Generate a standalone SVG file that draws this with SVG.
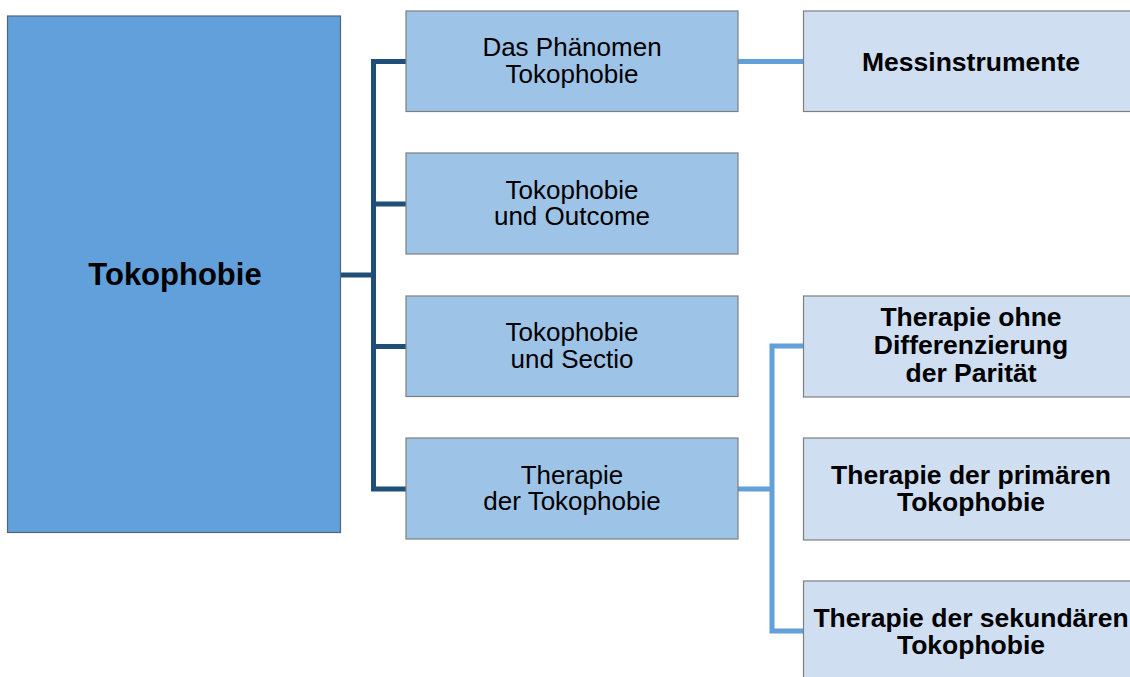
<svg xmlns="http://www.w3.org/2000/svg" width="1130" height="677" viewBox="0 0 1130 677">
<style>
.l1{fill:#62A0DB;stroke:#52657D;stroke-width:1.2}
.l2{fill:#9DC3E6;stroke:#7F7F7F;stroke-width:1.2}
.l3{fill:#CFDFF1;stroke:#7F7F7F;stroke-width:1.2}
.dk{fill:none;stroke:#1F4E79;stroke-width:5}
.lt{fill:none;stroke:#62A0DB;stroke-width:5}
text{font-family:"Liberation Sans",Arial,sans-serif;fill:#000;text-anchor:middle}
.t2{font-size:26px}
.t3{font-size:26.5px;font-weight:bold}
.t1{font-size:31px;font-weight:bold}
</style>
<rect width="1130" height="677" fill="#fff"/>
<g id="connectors">
<path class="dk" d="M340,275 H373.5 M406,61.5 H373.5 V489 H406 M373.5,204 H406 M373.5,346.5 H406"/>
<path class="lt" d="M738,61.5 H803 M738,489 H772 M803,346 H772 V631 H803"/>
</g>
<g id="n-tokophobie">
<rect class="l1" x="7.5" y="16" width="333" height="516.5"/>
<text class="t1" x="175" y="285">Tokophobie</text>
</g>
<g id="n-phaenomen">
<rect class="l2" x="406" y="11" width="332" height="100.5"/>
<text class="t2" x="572" y="56">Das Phänomen</text>
<text class="t2" x="572" y="82.5">Tokophobie</text>
</g>
<g id="n-outcome">
<rect class="l2" x="406" y="153" width="332" height="101"/>
<text class="t2" x="572" y="198.5">Tokophobie</text>
<text class="t2" x="572" y="225">und Outcome</text>
</g>
<g id="n-sectio">
<rect class="l2" x="406" y="296" width="332" height="100.5"/>
<text class="t2" x="572" y="341">Tokophobie</text>
<text class="t2" x="572" y="367.5">und Sectio</text>
</g>
<g id="n-therapie">
<rect class="l2" x="406" y="438" width="332" height="101"/>
<text class="t2" x="572" y="483.5">Therapie</text>
<text class="t2" x="572" y="510">der Tokophobie</text>
</g>
<g id="n-mess">
<rect class="l3" x="803.5" y="11" width="340" height="100.5"/>
<text class="t3" x="971" y="71">Messinstrumente</text>
</g>
<g id="n-ohne">
<rect class="l3" x="803.5" y="296" width="340" height="101"/>
<text class="t3" x="971" y="326">Therapie ohne</text>
<text class="t3" x="971" y="354">Differenzierung</text>
<text class="t3" x="971" y="382">der Parität</text>
</g>
<g id="n-primaer">
<rect class="l3" x="803.5" y="438" width="340" height="102"/>
<text class="t3" x="971" y="483.5">Therapie der primären</text>
<text class="t3" x="971" y="511">Tokophobie</text>
</g>
<g id="n-sekundaer">
<rect class="l3" x="803.5" y="581" width="340" height="110"/>
<text class="t3" x="971" y="627">Therapie der sekundären</text>
<text class="t3" x="971" y="654">Tokophobie</text>
</g>
</svg>
